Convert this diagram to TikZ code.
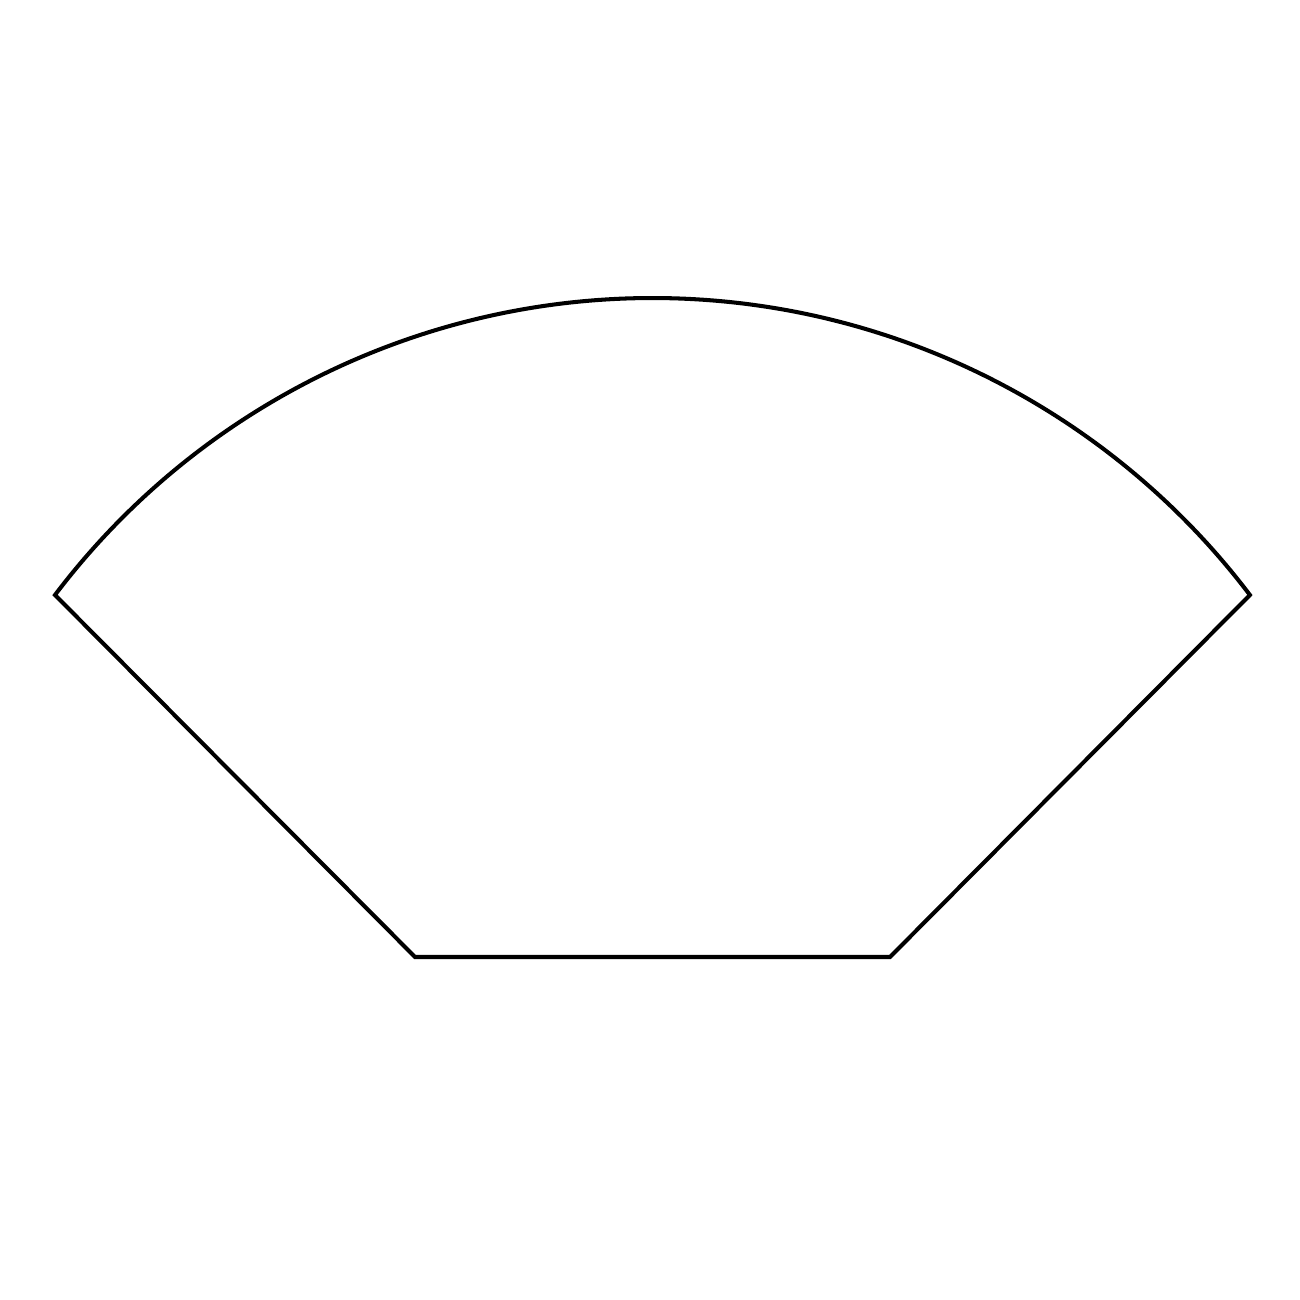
\documentclass[tikz,border=0pt]{standalone}
\usepackage{tikz}
\begin{document}
\begin{tikzpicture}
[outline/.style={draw=black,line width=1.15pt,line join=miter},%
  x=1cm,y=1cm]
\useasboundingbox (0,0) rectangle (13,13);
%% corners of the fan
\foreach \cname/\x/\y in {left/0.55/7.05, botleft/4.15/3.43, botright/8.90/3.43, right/12.50/7.05}
{
  \coordinate (\cname) at (\x,\y);
}
%% outline
\draw[outline] (left) arc[start angle=142.857, end angle=37.143, radius=7.495]
  -- (botright) -- (botleft) -- cycle;
\end{tikzpicture}
\end{document}
